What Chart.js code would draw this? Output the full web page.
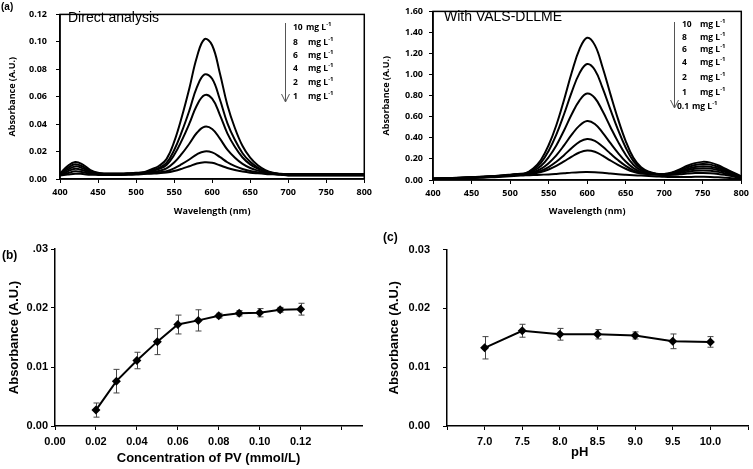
<!DOCTYPE html>
<html><head><meta charset="utf-8">
<script src="https://cdn.jsdelivr.net/npm/chart.js@4"></script>
<style>
html,body{margin:0;padding:0;background:#fff;}
#wrap{position:relative;width:753px;height:469px;overflow:hidden;font-family:"Liberation Sans",Arial,sans-serif;background:#fff;}
canvas{position:absolute;}
.t{position:absolute;white-space:nowrap;line-height:1;color:#000;}
.lg{font-family:"Open Sans",sans-serif;font-weight:bold;font-size:8.5px;}
.lg sup{font-size:6px;vertical-align:top;position:relative;top:-2px;}
.pl{font-weight:bold;}
svg{position:absolute;left:0;top:0;}
</style></head><body>
<div id="wrap">
<canvas id="cA1" width="376" height="222" style="left:0;top:0;width:376px;height:222px"></canvas>
<canvas id="cA2" width="377" height="222" style="left:376px;top:0;width:377px;height:222px"></canvas>
<canvas id="cB" width="376" height="239" style="left:0;top:230px;width:376px;height:239px"></canvas>
<canvas id="cC" width="377" height="239" style="left:376px;top:230px;width:377px;height:239px"></canvas>
<svg width="753" height="469"><g stroke="#555" stroke-width="1" fill="none">
<line x1="285.5" y1="23" x2="285.5" y2="102"/><polyline points="281.5,94 285.5,102 289.5,94"/>
<line x1="674.5" y1="22" x2="674.5" y2="108"/><polyline points="670.5,100 674.5,108 678.5,100"/>
</g></svg>
<div class="t pl" style="left:1px;top:2px;font-size:10px">(a)</div>
<div class="t" style="left:68px;top:10px;font-size:14px">Direct analysis</div>
<div class="t" style="left:444px;top:9px;font-size:14px">With VALS-DLLME</div>
<div class="t pl" style="left:2px;top:249px;font-size:12px">(b)</div>
<div class="t pl" style="left:383px;top:231px;font-size:12px">(c)</div>
<div class="t pl" style="left:571px;top:445px;font-size:13px">pH</div>
<div id="legs"></div>
</div>
<script>
// ---------- data ----------
const wavelengths = [400,410,420,430,440,450,460,470,480,490,500,510,520,530,540,550,560,570,580,590,600,610,620,630,640,650,660,670,680,690,700,710,720,730,740,750,760,770,780,790,800];

const directLabels = ['10','8','6','4','2','1'];
const direct10 = [0.0040,0.0095,0.0124,0.0105,0.0065,0.0045,0.0040,0.0040,0.0040,0.0042,0.0045,0.0050,0.0070,0.0095,0.0145,0.0270,0.0450,0.0660,0.0890,0.1020,0.0975,0.0775,0.0540,0.0370,0.0240,0.0155,0.0100,0.0065,0.0045,0.0038,0.0036,0.0036,0.0036,0.0036,0.0036,0.0036,0.0036,0.0036,0.0036,0.0036,0.0036];
const direct8  = [0.0035,0.0080,0.0108,0.0090,0.0058,0.0042,0.0038,0.0038,0.0038,0.0040,0.0043,0.0047,0.0062,0.0081,0.0117,0.0210,0.0343,0.0498,0.0669,0.0762,0.0731,0.0583,0.0408,0.0284,0.0188,0.0125,0.0084,0.0057,0.0042,0.0036,0.0034,0.0034,0.0034,0.0034,0.0034,0.0034,0.0034,0.0034,0.0034,0.0034,0.0034];
const direct6  = [0.0033,0.0068,0.0092,0.0078,0.0052,0.0040,0.0036,0.0036,0.0036,0.0038,0.0041,0.0046,0.0058,0.0073,0.0102,0.0175,0.0280,0.0403,0.0538,0.0612,0.0586,0.0470,0.0333,0.0233,0.0157,0.0107,0.0075,0.0054,0.0042,0.0036,0.0032,0.0032,0.0032,0.0032,0.0032,0.0032,0.0032,0.0032,0.0032,0.0032,0.0032];
const direct4  = [0.0030,0.0055,0.0074,0.0064,0.0045,0.0037,0.0034,0.0034,0.0034,0.0036,0.0039,0.0043,0.0050,0.0059,0.0077,0.0120,0.0183,0.0257,0.0337,0.0381,0.0365,0.0296,0.0214,0.0155,0.0110,0.0080,0.0062,0.0049,0.0041,0.0035,0.0030,0.0030,0.0030,0.0030,0.0030,0.0030,0.0030,0.0030,0.0030,0.0030,0.0030];
const direct2  = [0.0028,0.0042,0.0057,0.0050,0.0038,0.0034,0.0032,0.0032,0.0032,0.0034,0.0036,0.0040,0.0044,0.0049,0.0057,0.0078,0.0108,0.0142,0.0180,0.0201,0.0194,0.0161,0.0122,0.0094,0.0073,0.0059,0.0050,0.0043,0.0038,0.0033,0.0028,0.0028,0.0028,0.0028,0.0028,0.0028,0.0028,0.0028,0.0028,0.0028,0.0028];
const direct1  = [0.0025,0.0032,0.0039,0.0036,0.0031,0.0030,0.0030,0.0030,0.0030,0.0031,0.0033,0.0036,0.0039,0.0042,0.0047,0.0058,0.0074,0.0093,0.0113,0.0122,0.0118,0.0100,0.0080,0.0065,0.0054,0.0046,0.0041,0.0037,0.0034,0.0031,0.0026,0.0026,0.0026,0.0026,0.0026,0.0026,0.0026,0.0026,0.0026,0.0026,0.0026];

const vallsLabels = ['10','8','6','4','2','1','0.1'];
const valls10 = [0.015,0.017,0.019,0.021,0.024,0.027,0.030,0.034,0.038,0.043,0.050,0.058,0.065,0.110,0.190,0.330,0.520,0.760,1.020,1.240,1.350,1.280,1.070,0.820,0.580,0.370,0.210,0.120,0.078,0.060,0.058,0.072,0.100,0.135,0.160,0.172,0.165,0.140,0.105,0.070,0.035];
const valls8  = [0.014,0.016,0.018,0.020,0.023,0.026,0.029,0.033,0.037,0.042,0.048,0.056,0.062,0.098,0.163,0.276,0.430,0.624,0.834,1.012,1.100,1.044,0.874,0.672,0.478,0.309,0.179,0.107,0.073,0.058,0.056,0.067,0.090,0.120,0.142,0.152,0.146,0.124,0.094,0.062,0.032];
const valls6  = [0.013,0.015,0.017,0.019,0.022,0.025,0.028,0.032,0.036,0.041,0.047,0.054,0.059,0.086,0.133,0.216,0.328,0.470,0.624,0.754,0.820,0.778,0.654,0.506,0.364,0.239,0.145,0.091,0.067,0.056,0.054,0.062,0.081,0.105,0.123,0.131,0.126,0.108,0.083,0.056,0.029];
const valls4  = [0.012,0.014,0.016,0.018,0.021,0.024,0.027,0.031,0.035,0.040,0.046,0.052,0.056,0.074,0.105,0.160,0.234,0.328,0.430,0.516,0.560,0.532,0.450,0.352,0.258,0.175,0.113,0.077,0.061,0.054,0.052,0.058,0.073,0.092,0.106,0.112,0.108,0.094,0.073,0.050,0.026];
const valls2  = [0.011,0.013,0.015,0.017,0.020,0.023,0.026,0.030,0.034,0.039,0.045,0.051,0.054,0.066,0.087,0.123,0.173,0.236,0.304,0.362,0.390,0.372,0.317,0.252,0.189,0.134,0.092,0.068,0.057,0.053,0.050,0.053,0.064,0.077,0.087,0.091,0.088,0.077,0.061,0.043,0.022];
const valls1  = [0.010,0.012,0.014,0.016,0.019,0.022,0.025,0.029,0.033,0.038,0.044,0.050,0.053,0.061,0.075,0.100,0.133,0.176,0.222,0.261,0.280,0.268,0.231,0.186,0.144,0.107,0.078,0.062,0.055,0.052,0.048,0.049,0.054,0.061,0.066,0.067,0.065,0.058,0.047,0.034,0.018];
const valls01 = [0.008,0.010,0.012,0.014,0.016,0.018,0.021,0.024,0.027,0.031,0.035,0.040,0.045,0.047,0.050,0.053,0.058,0.064,0.070,0.074,0.075,0.073,0.068,0.061,0.054,0.049,0.045,0.042,0.038,0.034,0.030,0.028,0.028,0.029,0.030,0.030,0.029,0.026,0.021,0.015,0.010];

const concPV = [0.02,0.03,0.04,0.05,0.06,0.07,0.08,0.09,0.10,0.11,0.12];
const absPV  = [0.0027,0.0076,0.0111,0.0143,0.0172,0.0179,0.0187,0.0191,0.0192,0.0197,0.0198];
const errPV  = [0.0012,0.0020,0.0014,0.0022,0.0016,0.0018,0.0004,0.00045,0.0007,0.0004,0.0010];
const concTicks = [0,0.02,0.04,0.06,0.08,0.10,0.12,0.14];
const concTickLabels = ['0.00','0.02','0.04','0.06','0.08','0.10','0.12',''];

const phValues = [7.0,7.5,8.0,8.5,9.0,9.5,10.0];
const absPH    = [0.0133,0.0162,0.0156,0.0156,0.0154,0.0144,0.0143];
const errPH    = [0.0019,0.0011,0.0010,0.0008,0.0006,0.00125,0.0009];
const phTicks = [6.5,7.0,7.5,8.0,8.5,9.0,9.5,10.0,10.5];
const phTickLabels = ['','7.0','7.5','8.0','8.5','9.0','9.5','10.0',''];

// ---------- legends (html text) ----------
const directRowsY = [28,43,56,69,83,97];
const vallsRowsY = [25,37.5,50,63,78,92.5,107];
(function(){
  const legs = document.getElementById('legs');
  let h = '';
  directLabels.forEach((l,i)=>{
    const y = directRowsY[i]-5;
    h += `<div class="t lg" style="left:293px;top:${y}px">${l}</div>`;
    h += `<div class="t lg" style="left:${i===0?306:308}px;top:${y}px">mg L<sup>-1</sup></div>`;
  });
  vallsLabels.forEach((l,i)=>{
    const y = vallsRowsY[i]-5;
    const last = i===vallsLabels.length-1;
    h += `<div class="t lg" style="left:${last?677:682}px;top:${y}px">${l}</div>`;
    h += `<div class="t lg" style="left:${last?692:700}px;top:${y}px">mg L<sup>-1</sup></div>`;
  });
  legs.innerHTML = h;
})();

// ---------- chart helpers ----------
Chart.defaults.font.family = '"Liberation Sans", Arial, sans-serif';
Chart.defaults.color = '#000';

const framePlugin = {id:'frame', afterDatasetsDraw(chart){
  const {ctx, chartArea:a} = chart;
  ctx.save(); ctx.strokeStyle='#000'; ctx.lineWidth=1.5;
  ctx.strokeRect(a.left, a.top, a.right-a.left, a.bottom-a.top);
  ctx.restore();
}};
const errPlugin = {id:'errbars', beforeDatasetsDraw(chart, args, opts){
  const {ctx, scales:{x,y}} = chart;
  const ds = chart.data.datasets[0];
  ctx.save(); ctx.strokeStyle='#444'; ctx.lineWidth=1;
  ds.data.forEach((p,i)=>{
    const e = opts.errors[i];
    const px = Math.round(x.getPixelForValue(p.x))+0.5;
    const y1 = y.getPixelForValue(p.y+e), y2 = y.getPixelForValue(p.y-e);
    ctx.beginPath();
    ctx.moveTo(px,y1); ctx.lineTo(px,y2);
    ctx.moveTo(px-3,y1); ctx.lineTo(px+3,y1);
    ctx.moveTo(px-3,y2); ctx.lineTo(px+3,y2);
    ctx.stroke();
  });
  ctx.restore();
}};

const fontA = {family:'"Open Sans", sans-serif', weight:'bold', size:9};
const fontB = {family:'"Liberation Sans", Arial, sans-serif', weight:'bold', size:11};
const titleB = {family:'"Liberation Sans", Arial, sans-serif', weight:'bold', size:13};
const gridCfg = {drawOnChartArea:false, drawTicks:true, tickLength:4, color:'#000', lineWidth:1};

function spectra(arr){ return wavelengths.map((w,i)=>({x:w, y:arr[i]})); }
function specDatasets(list, labels){
  return list.map((arr,i)=>({label:labels[i]+' mg L-1', data:spectra(arr), borderColor:'#000', borderWidth:2, pointRadius:0, tension:0.4, fill:false}));
}
function specChart(id, sets, labels, ymax, ystep, pad, yw, ypad, ytitlePad){
  new Chart(document.getElementById(id), {
    type:'line',
    data:{datasets:specDatasets(sets, labels)},
    options:{
      responsive:false, animation:false, devicePixelRatio:1,
      layout:{padding:pad},
      plugins:{legend:{display:false}, tooltip:{enabled:false}},
      scales:{
        x:{type:'linear', min:400, max:800,
          ticks:{stepSize:50, font:fontA, color:'#000', padding:4, maxRotation:0, autoSkip:false},
          grid:gridCfg, border:{display:true, color:'#000', width:1.5},
          title:{display:true, text:'Wavelength (nm)', font:fontA, color:'#000', padding:{top:0,bottom:5}},
          afterFit(s){ s.height = 222 - pad.top - (pad.bottomArea); }
        },
        y:{type:'linear', min:0, max:ymax,
          ticks:{stepSize:ystep, font:fontA, color:'#000', padding:ypad, callback:v=>v.toFixed(2)},
          grid:gridCfg, border:{display:true, color:'#000', width:1.5},
          title:{display:true, text:'Absorbance (A.U.)', font:fontA, color:'#000', padding:{top:ytitlePad,bottom:0}},
          afterFit(s){ s.width = yw; }
        }
      }
    },
    plugins:[framePlugin]
  });
}

// panel (a) left: plot area 60..368 x 5..179
specChart('cA1', [direct10,direct8,direct6,direct4,direct2,direct1], directLabels, 0.12, 0.02,
  {left:0, top:5, right:8, bottom:0, bottomArea:174}, 60, 9, 7);
// panel (a) right: plot area 433..744 x 5..180
specChart('cA2', [valls10,valls8,valls6,valls4,valls2,valls1,valls01], vallsLabels, 1.6, 0.2,
  {left:0, top:5, right:9, bottom:0, bottomArea:175}, 57, 6, 5);

function errChart(id, xs, ys, errs, xmin, xmax, xt, xtl, pad, yw, ypad, ytitlePad, xtitle, xh, ylabelFn){
  new Chart(document.getElementById(id), {
    type:'line',
    data:{datasets:[{data:xs.map((v,i)=>({x:v, y:ys[i]})), borderColor:'#000', borderWidth:2, tension:0,
      pointStyle:'rectRot', pointRadius:4.5, pointBackgroundColor:'#000', pointBorderColor:'#000', pointBorderWidth:0, fill:false}]},
    options:{
      responsive:false, animation:false, devicePixelRatio:1,
      layout:{padding:pad},
      plugins:{legend:{display:false}, tooltip:{enabled:false}, errbars:{errors:errs}},
      scales:{
        x:{type:'linear', min:xmin, max:xmax,
          afterBuildTicks(s){ s.ticks = xt.map(v=>({value:v})); },
          ticks:{font:fontB, color:'#000', padding:5, maxRotation:0, autoSkip:false, callback:(v,i)=>xtl[i]},
          grid:gridCfg, border:{display:true, color:'#000', width:1.5},
          title:{display:!!xtitle, text:xtitle||'', font:titleB, color:'#000', padding:{top:0,bottom:3}},
          afterFit(s){ s.height = xh; }
        },
        y:{type:'linear', min:0, max:0.03,
          ticks:{stepSize:0.01, font:fontB, color:'#000', padding:ypad, callback:ylabelFn},
          grid:gridCfg, border:{display:true, color:'#000', width:1.5},
          title:{display:true, text:'Absorbance (A.U.)', font:titleB, color:'#000', padding:{top:ytitlePad,bottom:0}},
          afterFit(s){ s.width = yw; }
        }
      }
    },
    plugins:[errPlugin]
  });
}
// panel (b): plot area 55..362 x 249..426
errChart('cB', concPV, absPV, errPV, 0, 0.15, concTicks, concTickLabels,
  {left:0, top:19, right:14, bottom:0}, 55, 3, 7, 'Concentration of PV (mmol/L)', 43,
  v => Math.abs(v-0.03)<1e-9 ? '.03' : v.toFixed(2));
// panel (c): plot area 447..752 x 235..426
errChart('cC', phValues, absPH, errPH, 6.5, 10.5, phTicks, phTickLabels,
  {left:0, top:5, right:1, bottom:0}, 71, 13, 11, '', 43,
  v => v.toFixed(2));
</script>
</body></html>
